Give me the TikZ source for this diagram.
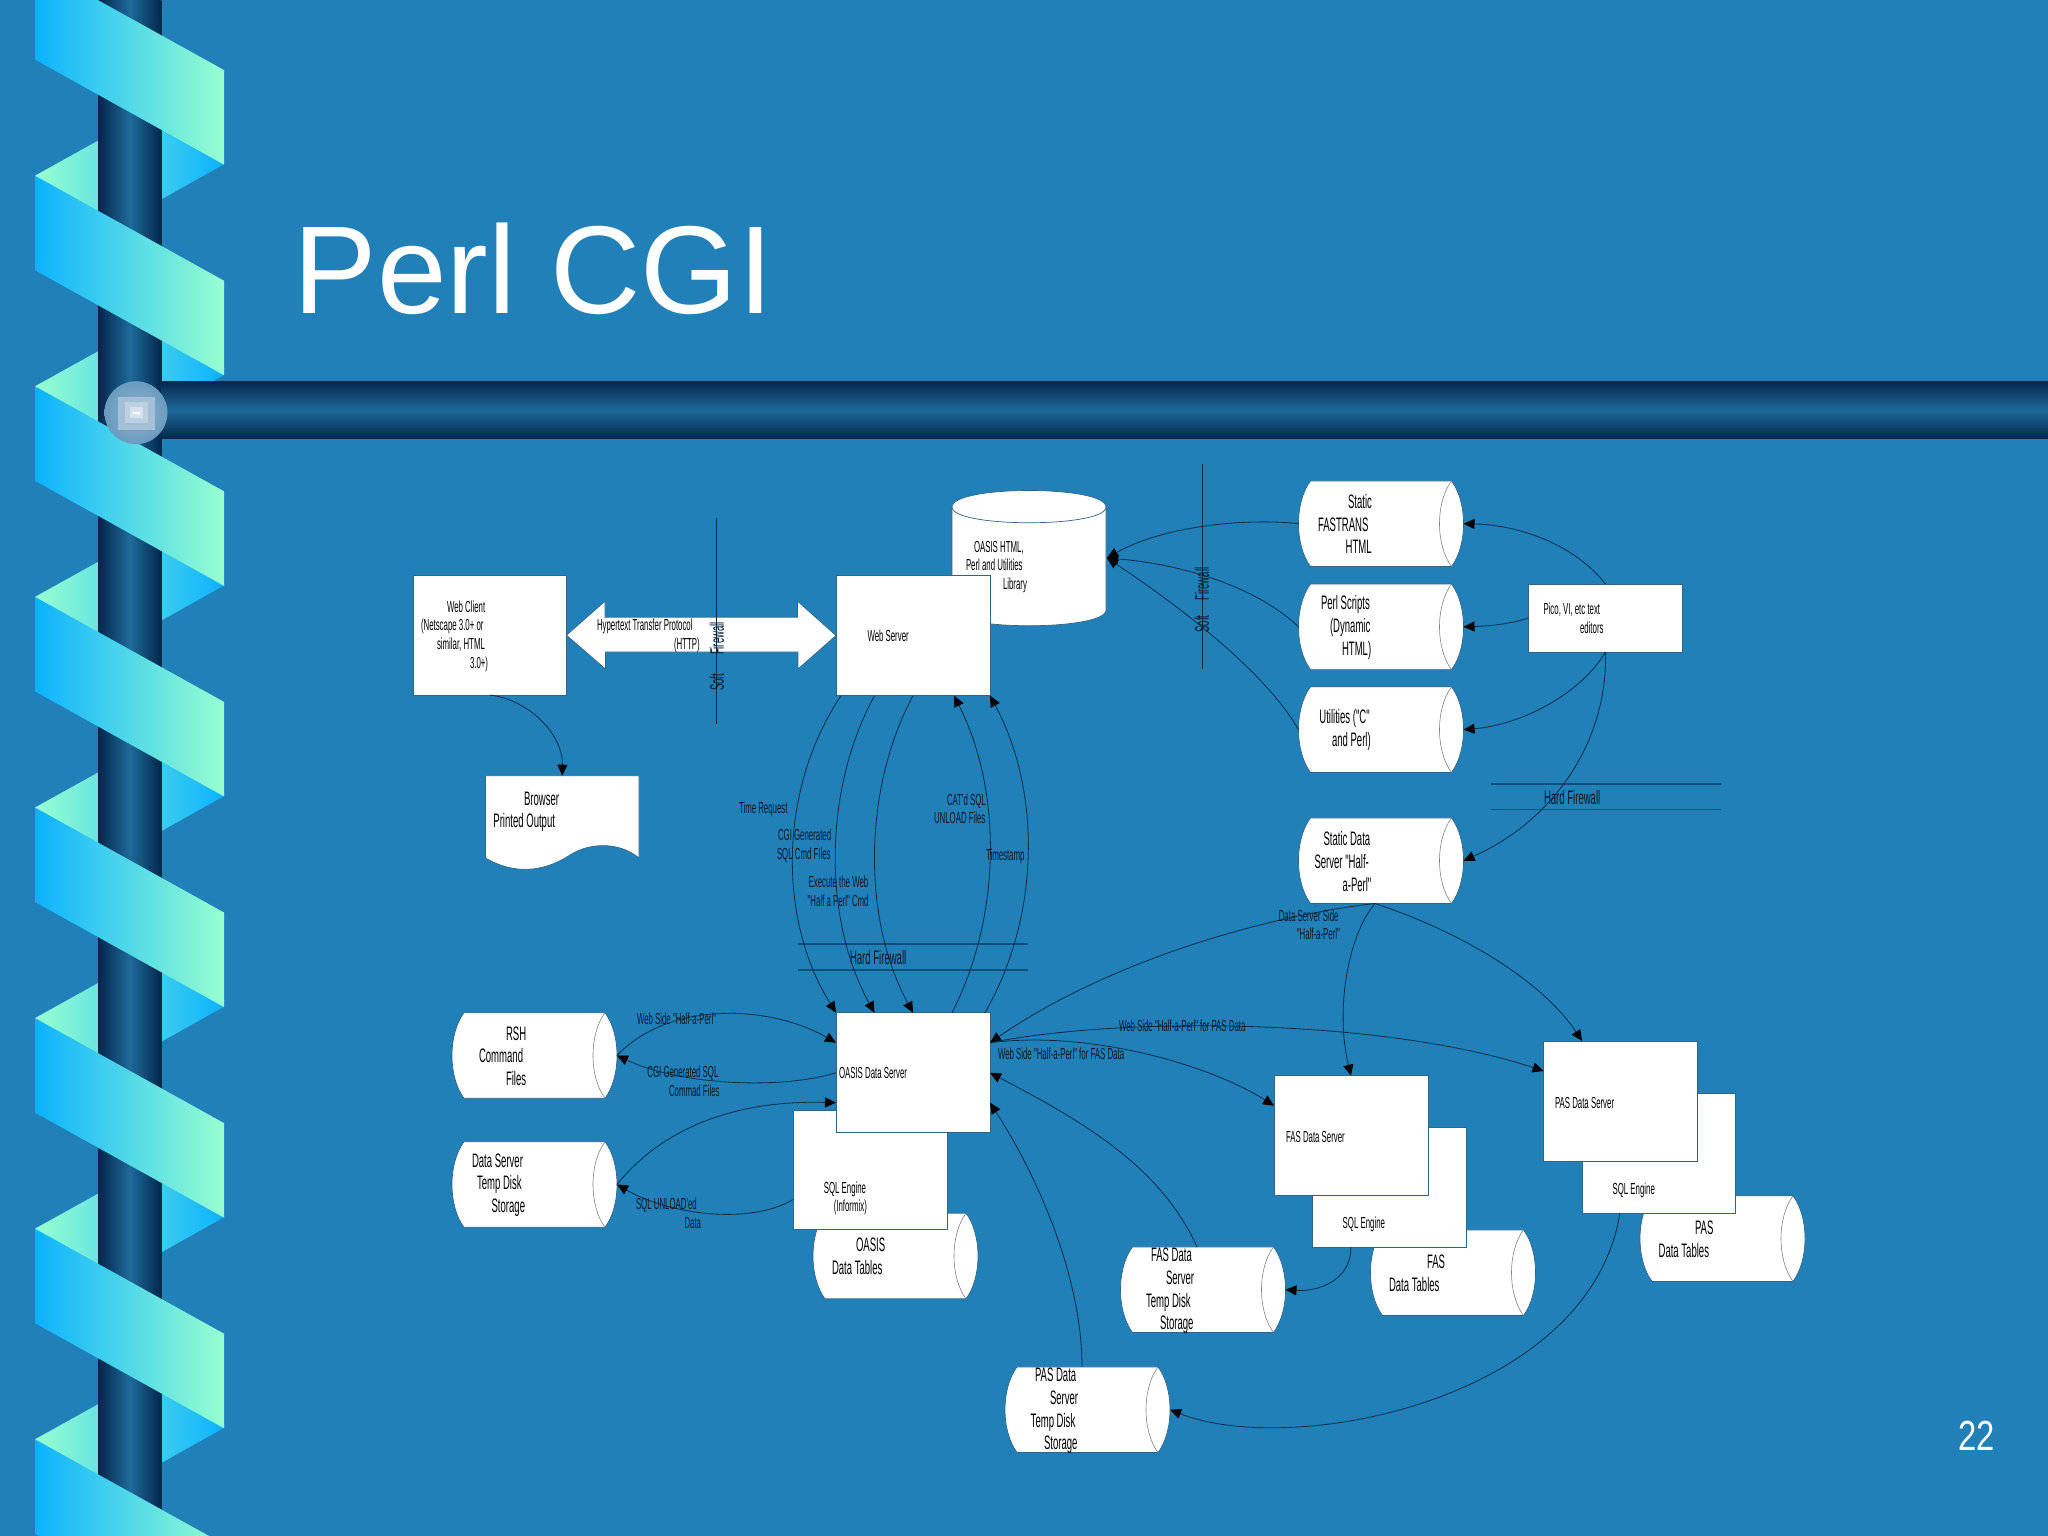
\documentclass[tikz,border=0pt]{standalone}
\usepackage{fontspec}
\usetikzlibrary{arrows.meta}
\setmainfont{Liberation Sans}
\newfontfamily\narrowfam[FakeStretch=0.49]{Liberation Sans}
\newfontfamily\pagefam[FakeStretch=0.78]{Liberation Sans}
\definecolor{slidebg}{HTML}{2280B8}
\definecolor{ribblue}{HTML}{0CB2FF}
\definecolor{ribmint}{HTML}{98FFD0}
\definecolor{poledark}{HTML}{04264C}
\definecolor{polemid}{HTML}{1E6A9A}
\definecolor{edgeln}{HTML}{2F6488}
\definecolor{connln}{HTML}{082C48}
\definecolor{wallln}{HTML}{0E4E7C}
\definecolor{lblc}{HTML}{03182A}
\definecolor{ballin}{HTML}{8DB0CB}
\definecolor{ballout}{HTML}{6A9CBE}
\definecolor{ballone}{HTML}{A4BFD6}
\definecolor{balltwo}{HTML}{BCD0E2}
\definecolor{ballthree}{HTML}{D6E2EE}
\newcommand\tabin[1]{\hspace*{#1pt}}
\tikzset{
  proc/.style={draw=edgeln,line width=.7pt,fill=white,inner sep=0pt,outer sep=0pt},
  anchorbox/.style={inner sep=0pt,outer sep=0pt},
  whitebody/.style={draw=edgeln,line width=.7pt,fill=white},
  innerarc/.style={draw=gray,line width=.6pt},
  conn/.style={draw=connln,line width=.8pt,-{Triangle[length=11pt,width=10pt,black]}},
  wall/.style={draw=wallln,line width=1.2pt},
  softwall/.style={draw=connln,line width=.9pt},
  sm/.style={inner sep=0pt,outer sep=0pt,anchor=west,align=left,text=black,yshift=-1pt,font=\narrowfam\fontsize{16}{18.6}\selectfont},
  lg/.style={inner sep=0pt,outer sep=0pt,anchor=west,align=left,text=black,yshift=-1pt,font=\narrowfam\fontsize{19.5}{22.6}\selectfont},
  csm/.style={sm,text=lblc},
  clg/.style={lg,text=lblc},
}
\newcommand\dstore[3]{%
  \node[anchorbox,minimum width=165pt,minimum height=85.6pt] (#1) at (#2,#3) {};
  \begin{scope}[shift={(#2,#3)}]
    \path[whitebody] (-70.5,-42.8) .. controls (-86.5,-21.4) and (-86.5,21.4) .. (-70.5,42.8) -- (70.5,42.8) .. controls (86.5,21.4) and (86.5,-21.4) .. (70.5,-42.8) -- cycle;
    \path[innerarc] (70.5,-42.8) .. controls (54.5,-21.4) and (54.5,21.4) .. (70.5,42.8);
  \end{scope}}
\newcommand\frontband[1]{%
  \shade[left color=ribblue,right color=ribmint] (35,#1) -- (224,#1+105) -- (224,#1+199.5) -- (35,#1+94.5) -- cycle;}
\newcommand\backband[1]{%
  \shade[left color=ribmint,right color=ribblue] (35,#1) -- (224,#1-105) -- (224,#1-11.5) -- (35,#1+94.5) -- cycle;}
\begin{document}
\begin{tikzpicture}[x=1pt,y=-1pt]
\useasboundingbox (0,0) rectangle (2048,1536);
\fill[slidebg] (0,0) rectangle (2048,1536);
\begin{scope}
\clip (0,0) rectangle (2048,1536);
% ribbon behind the pole
\backband{175.7}\backband{386.3}\backband{596.9}\backband{807.5}\backband{1018.1}\backband{1228.7}\backband{1439.3}
% pole and bar
\shade[left color=poledark,right color=poledark,middle color=polemid] (98.3,0) rectangle (161.3,1536);
\shade[top color=poledark,bottom color=poledark,middle color=polemid] (161.3,381) rectangle (2048,438.7);
% ribbon in front of the pole
\frontband{-34.9}\frontband{175.7}\frontband{386.3}\frontband{596.9}\frontband{807.5}\frontband{1018.1}\frontband{1228.7}\frontband{1439.3}
% ball
\shade[inner color=ballin,outer color=ballout] (136,412.7) circle (31.5);
\fill[ballone] (118,397) rectangle (155,430);
\fill[balltwo] (125,402) rectangle (148,423);
\fill[ballthree] (130,407) rectangle (143,418);
\fill[white] (133,412) rectangle (140,413.8);
\end{scope}
\node[anchor=base west,inner sep=0pt,text=white,font=\fontsize{125}{130}\selectfont] (title) at (293.5,313) {Perl CGI};
\node[anchor=base west,inner sep=0pt,text=white,font=\pagefam\fontsize{42}{46}\selectfont] (pagenum) at (1958,1450) {22};

% library cylinder
\node[anchorbox,minimum width=154pt,minimum height=135pt] (db) at (1029,558) {};
\path[whitebody] (952,507) .. controls (952,485) and (1106,485) .. (1106,507) -- (1106,610) .. controls (1106,631) and (952,631) .. (952,610) -- cycle;
\path[draw=edgeln,line width=.7pt] (952,507) .. controls (952,528) and (1106,528) .. (1106,507);

% data stores
\dstore{static}{1381}{523.7}
\dstore{perl}{1381}{626.8}
\dstore{util}{1381}{729.6}
\dstore{sds}{1381}{860.7}
\dstore{rsh}{534.5}{1055.5}
\dstore{tmp}{534.5}{1184.5}
\dstore{oastab}{895.5}{1256}
\dstore{fastab}{1453}{1272.7}
\dstore{fastmp}{1203}{1289.7}
\dstore{pastab}{1722.5}{1238.6}
\dstore{pastmp}{1087.5}{1409.7}

% boxes
\node[proc,minimum width=153pt,minimum height=119.6pt] (wc) at (490,635.2) {};
\node[proc,minimum width=154pt,minimum height=120.3pt] (ws) at (913,635.5) {};
\node[proc,minimum width=153.5pt,minimum height=68pt] (pico) at (1605.5,618) {};
\node[proc,minimum width=154pt,minimum height=119.3pt] (sql) at (870,1169.6) {};
\node[proc,minimum width=154pt,minimum height=120pt] (ods) at (913,1072.7) {};
\node[proc,minimum width=153.5pt,minimum height=120.3pt] (fassql) at (1389.5,1187) {};
\node[proc,minimum width=154pt,minimum height=120pt] (fassrv) at (1351,1135.7) {};
\node[proc,minimum width=153.5pt,minimum height=119.7pt] (passql) at (1658.7,1153) {};
\node[proc,minimum width=153.5pt,minimum height=120pt] (passrv) at (1620.3,1101) {};

% printed output
\node[anchorbox,minimum width=153.6pt,minimum height=94.6pt] (brow) at (562.2,823) {};
\path[whitebody] (485.4,775.7) -- (639,775.7) -- (639,858) .. controls (620,842) and (590,842) .. (570,855) .. controls (550,868) and (520,878) .. (485.4,858) -- cycle;

% HTTP double arrow
\path[whitebody] (wc.east) -- ++(38.5,-34) -- ++(0,16) -- ++(192.5,0) -- ++(0,-16) -- (ws.west) -- ++(-38,33.5) -- ++(0,-17) -- ++(-192.5,0) -- ++(0,17) -- cycle;

% firewalls
\coordinate (sfa) at (716,518); \coordinate (sfb) at (716,723.6);
\coordinate (sgA) at (1202,463.6); \coordinate (sgB) at (1202,669);
\coordinate (hfa) at (798,944); \coordinate (hfb) at (1028,944);
\coordinate (hfc) at (798,970); \coordinate (hfd) at (1028,970);
\coordinate (hga) at (1491,784); \coordinate (hgb) at (1720.7,784);
\coordinate (hgc) at (1491,809.6); \coordinate (hgd) at (1720.7,809.6);
\draw[softwall] (sfa) -- (sfb);
\draw[softwall] (sgA) -- (sgB);
\draw[wall] (hfa) -- (hfb);
\draw[wall] (hfc) -- (hfd);
\draw[wall] (hga) -- (hgb);
\draw[wall] (hgc) -- (hgd);

% connectors
\draw[conn] (wc.south) .. controls (530,700) and (563,735) .. (brow.north);
\draw[conn] ([xshift=5pt]ws.south west) .. controls (778,790) and (778,920) .. (ods.north west);
\draw[conn] ([xshift=38.5pt]ws.south west) .. controls (823,790) and (823,920) .. ([xshift=38.5pt]ods.north west);
\draw[conn] (ws.south) .. controls (862.5,790) and (862.5,920) .. (ods.north);
\draw[conn] ([xshift=-38pt]ods.north east) .. controls (1002,915) and (1002,790) .. ([xshift=-36pt]ws.south east);
\draw[conn] ([xshift=-5pt]ods.north east) .. controls (1041,915) and (1041,790) .. (ws.south east);
\draw[conn] (static.west) .. controls (1250,518) and (1165,525) .. ([xshift=1pt]db.east);
\draw[conn] (perl.west) .. controls (1260,590) and (1190,565) .. ([xshift=1pt]db.east);
\draw[conn] (util.west) .. controls (1270,680) and (1200,620) .. ([xshift=1pt]db.east);
\draw[conn] (pico.north) .. controls (1575,545) and (1520,525) .. (static.east);
\draw[conn] (pico.west) .. controls (1510,624) and (1490,626) .. (perl.east);
\draw[conn] (pico.south) .. controls (1580,695) and (1520,725) .. (util.east);
\draw[conn] (pico.south) .. controls (1608,740) and (1555,820) .. (sds.east);
\draw[conn] ([xshift=-6pt]sds.south) .. controls (1270,915) and (1110,960) .. ([yshift=30pt]ods.east);
\draw[conn] ([xshift=-6pt]sds.south) .. controls (1348,935) and (1335,1010) .. (fassrv.north);
\draw[conn] ([xshift=-6pt]sds.south) .. controls (1470,935) and (1545,985) .. ([xshift=38.5pt]passrv.north west);
\draw[conn] (rsh.east) .. controls (670,1000) and (770,1005) .. ([yshift=30pt]ods.west);
\draw[conn] (ods.west) .. controls (780,1090) and (680,1085) .. (rsh.east);
\draw[conn] (tmp.east) .. controls (665,1125) and (740,1100) .. ([yshift=-30pt]ods.west);
\draw[conn] ([yshift=-30pt]sql.west) .. controls (750,1225) and (670,1215) .. (tmp.east);
\draw[conn] ([yshift=30pt]ods.east) .. controls (1130,1015) and (1390,1020) .. ([yshift=30pt]passrv.west);
\draw[conn] ([yshift=30pt]ods.east) .. controls (1090,1030) and (1210,1065) .. ([yshift=30pt]fassrv.west);
\draw[conn] ([xshift=-6pt]fastmp.north) .. controls (1160,1165) and (1080,1120) .. (ods.east);
\draw[conn] ([xshift=-5.5pt]pastmp.north) .. controls (1082,1280) and (1040,1180) .. ([yshift=-30pt]ods.east);
\draw[conn] ([xshift=38pt]fassql.south west) .. controls (1352,1275) and (1325,1292) .. (fastmp.east);
\draw[conn] ([xshift=38pt]passql.south west) .. controls (1590,1400) and (1293,1458) .. (pastmp.east);

% texts in boxes
\node[sm] (twc) at (421,635) {\tabin{26}Web Client\\(Netscape 3.0+ or\\\tabin{16}similar, HTML\\\tabin{49}3.0+)};
\node[sm] (thttp) at (597,635) {Hypertext Transfer Protocol\\\tabin{77}(HTTP)};
\node[sm] (tws) at (867.5,635) {Web Server};
\node[sm] (tdb) at (966,566) {\tabin{8}OASIS HTML,\\Perl and Utilities\\\tabin{37}Library};
\node[sm] (tpico) at (1543.5,617.2) {Pico, VI, etc text\\\tabin{36.5}editors};
\node[sm] (tods) at (839,1072.3) {OASIS Data Server};
\node[sm] (tsql) at (823.8,1197.4) {SQL Engine\\\tabin{10}(Informix)};
\node[sm] (tfsrv) at (1286,1135.7) {FAS Data Server};
\node[sm] (tfsql) at (1342.7,1223.7) {SQL Engine};
\node[sm] (tpsrv) at (1555,1101.7) {PAS Data Server};
\node[sm] (tpsql) at (1612.6,1189.3) {SQL Engine};
\node[lg] (tbrow) at (493.4,810.7) {\tabin{30.6}Browser\\Printed Output};
\node[lg] (tstatic) at (1318,523.3) {\tabin{30}Static\\FASTRANS\\\tabin{27.7}HTML};
\node[lg] (tperl) at (1321,626.5) {Perl Scripts\\\tabin{9}(Dynamic\\\tabin{21}HTML)};
\node[lg] (tutil) at (1319.4,729.2) {Utilities ("C"\\\tabin{12.6}and Perl)};
\node[lg] (tsds) at (1314.5,860.5) {\tabin{9}Static Data\\Server "Half-\\\tabin{28}a-Perl"};
\node[lg] (trsh) at (479,1055) {\tabin{27}RSH\\Command\\\tabin{27}Files};
\node[lg] (ttmp) at (472,1184) {Data Server\\\tabin{5}Temp Disk\\\tabin{19.6}Storage};
\node[lg] (toas) at (832,1255.5) {\tabin{24}OASIS\\Data Tables};
\node[lg] (tftab) at (1389,1272.3) {\tabin{38}FAS\\Data Tables};
\node[lg] (tptab) at (1658.6,1238.3) {\tabin{36.4}PAS\\Data Tables};
\node[lg] (tftmp) at (1146,1290) {\tabin{5}FAS Data\\\tabin{20}Server\\Temp Disk\\\tabin{14}Storage};
\node[lg] (tptmp) at (1030.7,1410) {\tabin{4.3}PAS Data\\\tabin{19.3}Server\\Temp Disk\\\tabin{13.3}Storage};

% texts on connectors and firewalls
\node[csm] (ltime) at (739,808.6) {Time Request};
\node[csm] (lcgi) at (777,845) {\tabin{1}CGI Generated\\SQL Cmd FIles};
\node[csm] (lexec) at (807.7,890.5) {\tabin{1}Execute the Web\\"Half a Perl" Cmd};
\node[csm] (lcat) at (934,807.8) {\tabin{13}CAT'd SQL\\UNLOAD Files};
\node[csm] (ltimes) at (986,855.7) {Timestamp};
\node[csm] (ldss) at (1278.8,923.6) {Data Server Side\\\tabin{18}"Half-a-Perl"};
\node[csm] (lwh) at (637,1017.3) {Web Side "Half-a-Perl"};
\node[csm] (lcgs) at (647.4,1080) {CGI Generated SQL\\\tabin{21.6}Commad Files};
\node[csm] (lunl) at (636,1212) {SQL UNLOAD'ed\\\tabin{48.5}Data};
\node[csm] (lfas) at (998,1052.7) {Web Side "Half-a-Perl" for FAS Data};
\node[csm] (lpas) at (1119,1025) {Web Side "Half-a-Perl" for PAS Data};
\node[clg] (lhf1) at (850,957) {Hard Firewall};
\node[clg] (lhf2) at (1544,796.4) {Hard Firewall};
\node[lg,anchor=center,align=center,text=lblc,rotate=90] (lsf1) at (717,655.5) {Soft\hspace{19pt}Firewall};
\node[lg,anchor=center,align=center,text=lblc,rotate=90] (lsf2) at (1202,599) {Soft\hspace{15pt}Firewall};
\end{tikzpicture}
\end{document}
